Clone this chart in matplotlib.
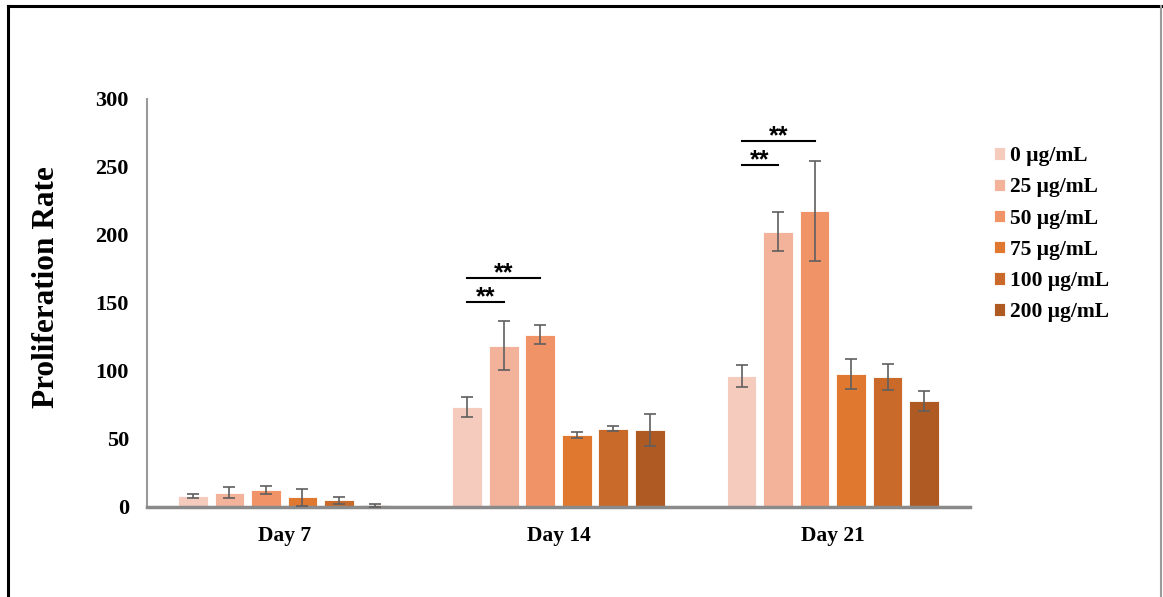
import numpy as np
import matplotlib
matplotlib.use("Agg")
import matplotlib.pyplot as plt
from matplotlib.lines import Line2D

# --- data ---
days = ["Day 7", "Day 14", "Day 21"]
doses = ["0 μg/mL", "25 μg/mL", "50 μg/mL", "75 μg/mL", "100 μg/mL", "200 μg/mL"]

rate_0 = [8.0, 73.5, 96.5]
rate_25 = [10.5, 118.5, 202.5]
rate_50 = [12.5, 126.5, 217.5]
rate_75 = [7.0, 53.0, 97.5]
rate_100 = [4.8, 57.5, 95.5]
rate_200 = [1.2, 56.5, 78.0]

err_0 = [1.5, 7.0, 8.0]
err_25 = [4.0, 18.0, 14.5]
err_50 = [3.2, 7.0, 37.0]
err_75 = [6.0, 2.4, 11.0]
err_100 = [2.3, 1.8, 9.3]
err_200 = [1.0, 11.5, 7.5]

colors = ["#F5CBBD", "#F3B29A", "#F09468", "#E1782F", "#C96A2A", "#AF5A22"]

# significance brackets: (day index, bar from, bar to, height)
sig_marks = [(1, 0, 1, 150.5), (1, 0, 2, 168.0), (2, 0, 1, 251.5), (2, 0, 2, 269.0)]

rates = [rate_0, rate_25, rate_50, rate_75, rate_100, rate_200]
errs = [err_0, err_25, err_50, err_75, err_100, err_200]

plt.rcParams["font.family"] = ["Liberation Serif", "DejaVu Serif"]
plt.rcParams["font.weight"] = "bold"

fig = plt.figure(figsize=(11.63, 5.97), dpi=100)
ax = fig.add_axes([0.1264, 0.1508, 0.7077, 0.6834])

x = np.arange(len(days))
step = 0.133
width = 0.108
for i, (vals, e) in enumerate(zip(rates, errs)):
    pos = x + (i - 2.5) * step
    ax.bar(pos, vals, width, color=colors[i], edgecolor="white", linewidth=0.6,
           label=doses[i], zorder=2)
    ax.errorbar(pos, vals, yerr=e, fmt="none", ecolor="#5f5f5f", elinewidth=1.2,
                capsize=4, capthick=1.2, zorder=3)

for d, a, b, h in sig_marks:
    x0 = x[d] + (a - 2.5) * step
    x1 = x[d] + (b - 2.5) * step
    ax.plot([x0, x1], [h, h], color="black", lw=1.5, zorder=4, clip_on=False)
    ax.annotate("**", xy=((x0 + x1) / 2, h), xytext=(0, -1.5), textcoords="offset points",
                ha="center", va="baseline", fontsize=18, fontweight="bold",
                family=["Liberation Sans", "DejaVu Sans"], annotation_clip=False)

ax.set_xlim(-0.5, 2.5)
ax.set_ylim(0, 300)
ax.set_yticks([0, 50, 100, 150, 200, 250, 300])
ax.set_xticks(x)
ax.set_xticklabels(days)
ax.tick_params(axis="y", length=0, labelsize=16, pad=13)
ax.tick_params(axis="x", length=0, labelsize=15.5, pad=14)
for lbl in ax.get_xticklabels() + ax.get_yticklabels():
    lbl.set_fontweight("bold")

for s in ["top", "right"]:
    ax.spines[s].set_visible(False)
ax.spines["left"].set_color("#9a9a9a")
ax.spines["left"].set_linewidth(1.5)
ax.spines["bottom"].set_color("#8a8a8a")
ax.spines["bottom"].set_linewidth(2.5)

ax.set_ylabel("Proliferation Rate", fontsize=22.5, fontweight="bold")
ax.yaxis.set_label_coords(-0.104, 0.538)

leg = fig.legend(loc="upper left", bbox_to_anchor=(0.8547, 0.755), frameon=False,
                 fontsize=15.5, handlelength=0.5, handleheight=0.5, handletextpad=0.25,
                 labelspacing=0.52, borderaxespad=0, borderpad=0)
for t in leg.get_texts():
    t.set_fontweight("bold")

# outer frame of the picture
fig.add_artist(Line2D([0.0069, 1.0], [0.990, 0.990], color="black", lw=2.2))
fig.add_artist(Line2D([0.0069, 0.0069], [0.0, 0.990], color="black", lw=2.2))
fig.add_artist(Line2D([0.9985, 0.9985], [0.0, 0.990], color="#9a9a9a", lw=1.5))

fig.savefig("out.png", dpi=100)
